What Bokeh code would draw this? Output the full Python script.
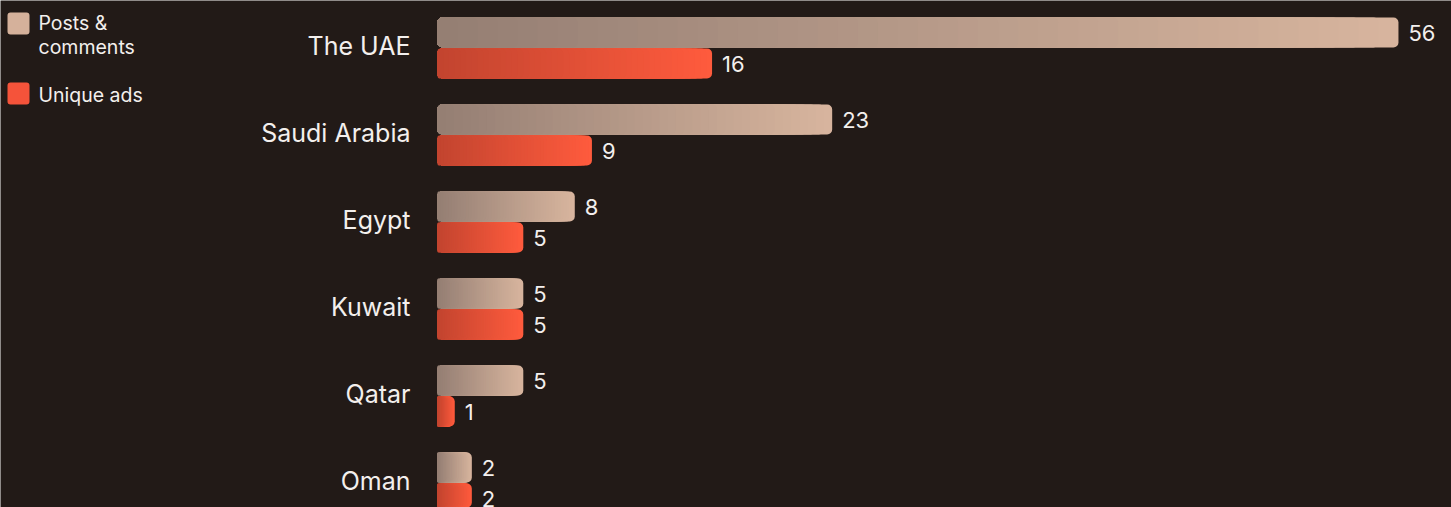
from bokeh.plotting import figure
from bokeh.models import Range1d, ColumnDataSource
from bokeh.core.properties import value
from bokeh.embed import file_html
from bokeh.resources import INLINE

# ---- data ----
countries = ["The UAE", "Saudi Arabia", "Egypt", "Kuwait", "Qatar", "Oman"]
posts_comments = [56, 23, 8, 5, 5, 2]
unique_ads = [16, 9, 5, 5, 1, 2]
series_names = ["Posts &\ncomments", "Unique ads"]

# ---- style ----
W, H = 1451, 507
X0 = 437            # pixel where value 0 sits
PX_PER_UNIT = 17.16
TOP0 = 17           # top of first bar (px)
GROUP = 87          # group pitch (px)
BAR_H = 30
GAP = 1
BG = "#221a17"
TXT = "#f3efed"
FONT = "Inter"
grad_posts = ("#947e73", "#d8b59e")
grad_ads = ("#c2442f", "#ff5b3d")
legend_cols = ["#d5b19b", "#f5533a"]
N_SLICES = 48


def px_x(px):
    return (px - X0) / PX_PER_UNIT


def lerp_hex(c1, c2, t):
    a = [int(c1[i:i + 2], 16) for i in (1, 3, 5)]
    b = [int(c2[i:i + 2], 16) for i in (1, 3, 5)]
    return "#%02x%02x%02x" % tuple(round(a[j] + (b[j] - a[j]) * t) for j in range(3))


p = figure(width=W, height=H, output_backend="svg", toolbar_location=None,
           x_range=Range1d(px_x(0), px_x(W)), y_range=Range1d(H, 0),
           min_border=0, x_axis_location=None, y_axis_location=None,
           background_fill_color=BG, border_fill_color=BG,
           outline_line_color=None, outline_line_width=0, outline_line_alpha=0)
p.grid.visible = False

post_y = [TOP0 + BAR_H / 2 + GROUP * i for i in range(len(countries))]
ads_y = [TOP0 + BAR_H + GAP + BAR_H / 2 + GROUP * i for i in range(len(countries))]
cat_y = [TOP0 + 28 + GROUP * i for i in range(len(countries))]

# gradient bars: cascade of rounded bars from longest to shortest
for vals, ys, (c1, c2) in [(posts_comments, post_y, grad_posts), (unique_ads, ads_y, grad_ads)]:
    for k in range(N_SLICES, 0, -1):
        t = k / N_SLICES
        src = ColumnDataSource(dict(y=ys, right=[v * t for v in vals]))
        col = lerp_hex(c1, c2, (k - 0.5) / N_SLICES)
        p.hbar(y="y", left=0, right="right", height=BAR_H, source=src,
               fill_color=col, line_color=None, border_radius=5)

# value labels
lab_src = ColumnDataSource(dict(
    x=posts_comments + unique_ads,
    y=post_y + ads_y,
    t=[str(v) for v in posts_comments + unique_ads]))
p.text(x="x", y="y", text="t", source=lab_src, x_offset=10,
       text_align="left", text_baseline="middle", text_color=TXT,
       text_font=value(FONT), text_font_size="22px")

# category labels
cat_src = ColumnDataSource(dict(x=[0] * len(countries), y=cat_y, t=countries))
p.text(x="x", y="y", text="t", source=cat_src, x_offset=-27,
       text_align="right", text_baseline="middle", text_color=TXT,
       text_font=value(FONT), text_font_size="25px")

# legend
sq_top = [12, 82]
line_y = [[22, 46], [94]]
for i, name in enumerate(series_names):
    p.quad(left=px_x(7), right=px_x(29), top=sq_top[i], bottom=sq_top[i] + 22,
           fill_color=legend_cols[i], line_color=None, border_radius=3)
    lines = name.split("\n")
    p.text(x=[px_x(38)] * len(lines), y=line_y[i], text=lines, text_align="left",
           text_baseline="middle", text_color=TXT, text_font=value(FONT),
           text_font_size="19.5px")

html = file_html(p, INLINE)
html = html.replace("<body>", '<body style="margin:0;background:%s">' % BG, 1)
open("out.html", "w").write(html)
